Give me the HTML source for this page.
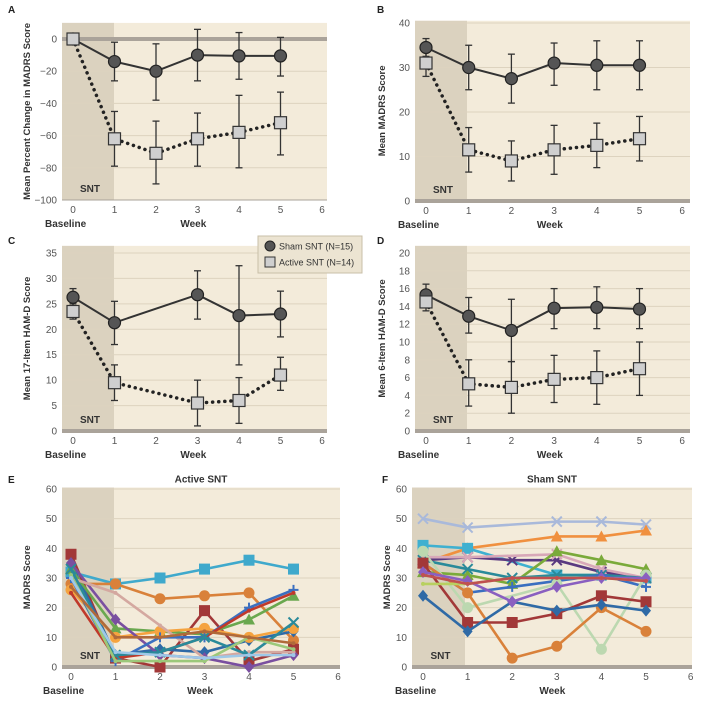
<!DOCTYPE html>
<html><head><meta charset="utf-8"><style>
body{margin:0;background:#fff;font-family:"Liberation Sans",sans-serif}
svg text{font-family:"Liberation Sans",sans-serif}
</style></head><body>
<svg id="c" width="720" height="711" viewBox="0 0 720 711"></svg>
<script>
// ---- data ----
const weeks = [0,1,2,3,4,5];
const weeksC = [0,1,3,4,5];
const xTicks = [0,1,2,3,4,5,6];
const aSham = [0,-14,-20,-10,-10.5,-10.5];
const aShamHi = [0,-2,-3,6,4,1];
const aShamLo = [0,-26,-38,-26,-25,-23];
const aAct = [0,-62,-71,-62,-58,-52];
const aActHi = [0,-45,-51,-46,-35,-33];
const aActLo = [0,-79,-90,-79,-80,-72];
const bSham = [34.5,30,27.5,31,30.5,30.5];
const bShamHi = [36.5,35,33,35.5,36,36];
const bShamLo = [32.5,25,22,26,25,25];
const bAct = [31,11.5,9,11.5,12.5,14];
const bActHi = [34,16.5,13.5,17,17.5,19];
const bActLo = [28,6.5,4.5,6,7.5,9];
const cSham = [26.3,21.3,26.8,22.7,23];
const cShamHi = [28,25.5,31.5,32.5,27.5];
const cShamLo = [24.5,17,22,13,18.5];
const cAct = [23.5,9.5,5.5,6,11];
const cActHi = [25,13,10,10.5,14.5];
const cActLo = [22,6,1,1.5,8];
const dSham = [15.3,12.9,11.3,13.8,13.9,13.7];
const dShamHi = [16.5,15,14.8,16,16.2,16];
const dShamLo = [14,11,7.8,11.5,11.5,11.5];
const dAct = [14.5,5.3,4.9,5.8,6,7];
const dActHi = [15.5,8,7.8,8.5,9,10];
const dActLo = [13.5,2.8,2,3.2,3,4];
const eSeries = [
 [32,28,30,33,36,33],[28,28,23,24,25,9],[38,3,0,19,2,6],[35,4,6,5,9,12],
 [33,13,12,11,16,24],[26,10,12,13,10,13],[35,16,4,3,0,4],[30,25,14,3,5,5],
 [30,2,10,10,20,26],[25,3,5,10,19,25],[33,4,5,10,4,15],[31,2,2,2,10,6],
 [30,5,4,3,4,4],[27,10,10,12,10,8]];
const eColors = ['#3fa9cc','#d9813a','#a23838','#2f6aa6','#6aa84f','#f5a33f','#7a4fa0','#d4a8a0','#3b6fc0','#c0392b','#2a8a9a','#9cc87a','#9ec8e8','#b06a3a'];
const eMarks = ['s','c','s','d','t','c','d','n','p','n','x','n','n','n'];
const fSeries = [
 [50,47,null,49,49,48],[35,40,null,44,44,46],[41,40,null,31,31,30],[36,37,36,36,32,30],
 [37,37,null,38,33,30],[32,31,28,39,36,33],[36,33,30,31,31,30],[35,25,27,29,31,27],
 [39,20,null,28,6,31],[35,25,3,7,20,12],[35,15,15,18,24,22],[24,12,22,19,21,19],
 [32,29,22,27,30,30],[28,28,30,30,30,29],[31,28,30,30,30,29]];
const fColors = ['#a9b9da','#f0903f','#3fb0d0','#5a3a80','#d8a8b8','#7aaa3a','#2a8a9a','#3b6fc0','#bcd8b0','#d9813a','#a23838','#2f6aa6','#8a5fc0','#b8d060','#c05050'];
const fMarks = ['x','t','s','x','x','t','x','p','c','c','s','d','d','n','n'];

const svg = document.getElementById('c');
const NS = 'http://www.w3.org/2000/svg';
function el(tag, attrs, parent){const e=document.createElementNS(NS,tag);for(const k in attrs)e.setAttribute(k,attrs[k]);(parent||svg).appendChild(e);return e;}
function txt(x,y,s,attrs,parent){const t=el('text',Object.assign({x:x,y:y},attrs),parent);t.textContent=s;return t;}

function panel(p){
  const g=el('g',{});
  
  
  const X=v=>p.x0+v*p.step;
  const Y=v=>p.bottom-(v-p.ymin)/(p.ymax-p.ymin)*(p.bottom-p.ytop);
  const top=Y(p.dtop);
  const bg=el('rect',{x:p.left,y:top,width:p.right-p.left,height:p.bottom-top,fill:'#f3ebda'},g);
  
  const sh=el('rect',{x:p.left,y:top,width:p.shade-p.left,height:p.bottom-top,fill:'#dbd2bf'},g);
  
  const st=txt(p.left+(p.shade-p.left)/2+2,p.bottom-8,'SNT',{'font-size':10,'font-weight':'bold','fill':'#333','text-anchor':'middle'},g);
  
  p.yt.forEach(v=>{
    const ln=el('line',{x1:p.left,x2:p.right,y1:Y(v),y2:Y(v),stroke:v===p.thick?'#aaa39a':'#ddd3bf','stroke-width':v===p.thick?4:1},g);
    
    const t=txt(p.left-5,Y(v)+3.5,(v<0?'−'+(-v):v),{'font-size':10,'fill':'#555','text-anchor':'end'},g);
    
  });
  if(p.thick!==p.ymin){const b=el('line',{x1:p.left,x2:p.right,y1:p.bottom,y2:p.bottom,stroke:'#aaa39a','stroke-width':p.ymin===0&&p.thick!==0?4:1},g);}
  xTicks.forEach(v=>{const t=txt(X(v),p.bottom+13,v,{'font-size':10,'fill':'#555','text-anchor':'middle'},g);});
  const bl=txt(X(0)-28,p.bottom+27,'Baseline',{'font-size':10,'font-weight':'bold','fill':'#333'},g);
  
  const wk=txt(X(2.9),p.bottom+27,'Week',{'font-size':10,'font-weight':'bold','fill':'#333','text-anchor':'middle'},g);
  
  const cy=(top+p.bottom)/2;
  const yl=txt(p.ytx,cy,p.ytitle,{'font-size':9.5,'font-weight':'bold','fill':'#333','text-anchor':'middle',transform:'rotate(-90 '+p.ytx+' '+cy+')'},g);
  
  const lt=txt(p.letterX,p.letterY,p.letter,{'font-size':10,'font-weight':'bold','fill':'#222'},g);
  
  if(p.title){const tt=txt((p.left+p.right)/2,top-5,p.title,{'font-size':10,'font-weight':'bold','fill':'#333','text-anchor':'middle'},g);}
  return {g,X,Y};
}

function groups(p,xs,sham,sHi,sLo,act,aHi,aLo){
  const {g,X,Y}=panel(p);
  [[xs,act,aHi,aLo,'active'],[xs,sham,sHi,sLo,'sham']].forEach(([x,v,hi,lo,nm])=>{
    x.forEach((w,i)=>{ if(hi[i]===lo[i])return;
      const e=el('g',{},g);
      
      
      el('line',{x1:X(w),x2:X(w),y1:Y(hi[i]),y2:Y(lo[i]),stroke:'#333','stroke-width':1.3},e);
      el('line',{x1:X(w)-3.5,x2:X(w)+3.5,y1:Y(hi[i]),y2:Y(hi[i]),stroke:'#333','stroke-width':1.3},e);
      el('line',{x1:X(w)-3.5,x2:X(w)+3.5,y1:Y(lo[i]),y2:Y(lo[i]),stroke:'#333','stroke-width':1.3},e);
    });
  });
  const pa=xs.map((w,i)=>X(w)+','+Y(act[i])).join(' ');
  const la=el('polyline',{points:pa,fill:'none',stroke:'#222','stroke-width':3.5,'stroke-dasharray':'0.1 6','stroke-linecap':'round'},g);
  
  const ps=xs.map((w,i)=>X(w)+','+Y(sham[i])).join(' ');
  const ls=el('polyline',{points:ps,fill:'none',stroke:'#333','stroke-width':2},g);
  
  xs.forEach((w,i)=>{
    const c=el('circle',{cx:X(w),cy:Y(sham[i]),r:6,fill:'#555','stroke':'#222','stroke-width':1.2},g);
    
    
  });
  xs.forEach((w,i)=>{
    const r=el('rect',{x:X(w)-6,y:Y(act[i])-6,width:12,height:12,fill:'#cfcfcf','stroke':'#333','stroke-width':1.2},g);
    
    
  });
}

function marker(g,t,x,y,c){
  let m;
  if(t==='s')m=el('rect',{x:x-5.5,y:y-5.5,width:11,height:11,fill:c},g);
  else if(t==='c')m=el('circle',{cx:x,cy:y,r:5.5,fill:c},g);
  else if(t==='d')m=el('polygon',{points:`${x},${y-6} ${x+5},${y} ${x},${y+6} ${x-5},${y}`,fill:c},g);
  else if(t==='t')m=el('polygon',{points:`${x},${y-6} ${x+6},${y+5} ${x-6},${y+5}`,fill:c},g);
  else if(t==='x')m=el('path',{d:`M${x-5},${y-5}L${x+5},${y+5}M${x+5},${y-5}L${x-5},${y+5}`,stroke:c,'stroke-width':2},g);
  else if(t==='p')m=el('path',{d:`M${x-5},${y}L${x+5},${y}M${x},${y-5}L${x},${y+5}`,stroke:c,'stroke-width':2},g);
  else m=el('circle',{cx:x,cy:y,r:2,fill:c},g);
  
  
}

function spaghetti(p,series,colors,marks){
  const {g,X,Y}=panel(p);
  series.forEach((s,k)=>{
    const pts=[];s.forEach((v,i)=>{if(v!==null)pts.push(X(weeks[i])+','+Y(v));});
    const l=el('polyline',{points:pts.join(' '),fill:'none',stroke:colors[k],'stroke-width':2.6},g);
    
    
    s.forEach((v,i)=>{if(v!==null)marker(g,marks[k],X(weeks[i]),Y(v),colors[k]);});
  });
}

const L={left:62,right:327,x0:73,step:41.5,shade:114,letterX:8};
const R={left:415,right:690,x0:426,step:42.7,shade:467,letterX:377};
groups(Object.assign({name:'panel-a',letter:'A',letterY:13,ytitle:'Mean Percent Change in MADRS Score',ytx:30,ymin:-100,ymax:0,dtop:10,ytop:39,bottom:200,yt:[0,-20,-40,-60,-80,-100],thick:0},L),weeks,aSham,aShamHi,aShamLo,aAct,aActHi,aActLo);
groups(Object.assign({name:'panel-b',letter:'B',letterY:13,ytitle:'Mean MADRS Score',ytx:385,ymin:0,ymax:40,dtop:40.5,ytop:23,bottom:201,yt:[0,10,20,30,40],thick:0},R),weeks,bSham,bShamHi,bShamLo,bAct,bActHi,bActLo);
groups(Object.assign({name:'panel-c',letter:'C',letterY:244,ytitle:'Mean 17-Item HAM-D Score',ytx:30,ymin:0,ymax:35,dtop:36.4,ytop:253,bottom:431,yt:[0,5,10,15,20,25,30,35],thick:0},L),weeksC,cSham,cShamHi,cShamLo,cAct,cActHi,cActLo);
groups(Object.assign({name:'panel-d',letter:'D',letterY:244,ytitle:'Mean 6-Item HAM-D Score',ytx:385,ymin:0,ymax:20,dtop:20.8,ytop:253,bottom:431,yt:[0,2,4,6,8,10,12,14,16,18,20],thick:0},R),weeks,dSham,dShamHi,dShamLo,dAct,dActHi,dActLo);
spaghetti({name:'panel-e',letter:'E',letterX:8,letterY:483,title:'Active SNT',ytitle:'MADRS Score',ytx:30,left:62,right:340,x0:71,step:44.5,shade:114,ymin:0,ymax:60,dtop:60.5,ytop:489,bottom:667,yt:[0,10,20,30,40,50,60],thick:0},eSeries,eColors,eMarks);
spaghetti({name:'panel-f',letter:'F',letterX:382,letterY:483,title:'Sham SNT',ytitle:'MADRS Score',ytx:390,left:412,right:692,x0:423,step:44.6,shade:465,ymin:0,ymax:60,dtop:60.5,ytop:489,bottom:667,yt:[0,10,20,30,40,50,60],thick:0},fSeries,fColors,fMarks);

// legend
const lg=el('g',{});


el('rect',{x:258,y:236,width:104,height:37,fill:'#ece4d2',stroke:'#c8bfa8'},lg);
const l1=el('g',{},lg);
el('circle',{cx:270,cy:246,r:5,fill:'#555',stroke:'#222'},l1);
txt(279,249.5,'Sham SNT (N=15)',{'font-size':9,'fill':'#333'},l1);
const l2=el('g',{},lg);
el('rect',{x:265,y:257,width:10,height:10,fill:'#cfcfcf',stroke:'#333'},l2);
txt(279,265.5,'Active SNT (N=14)',{'font-size':9,'fill':'#333'},l2);
</script>
</body></html>
